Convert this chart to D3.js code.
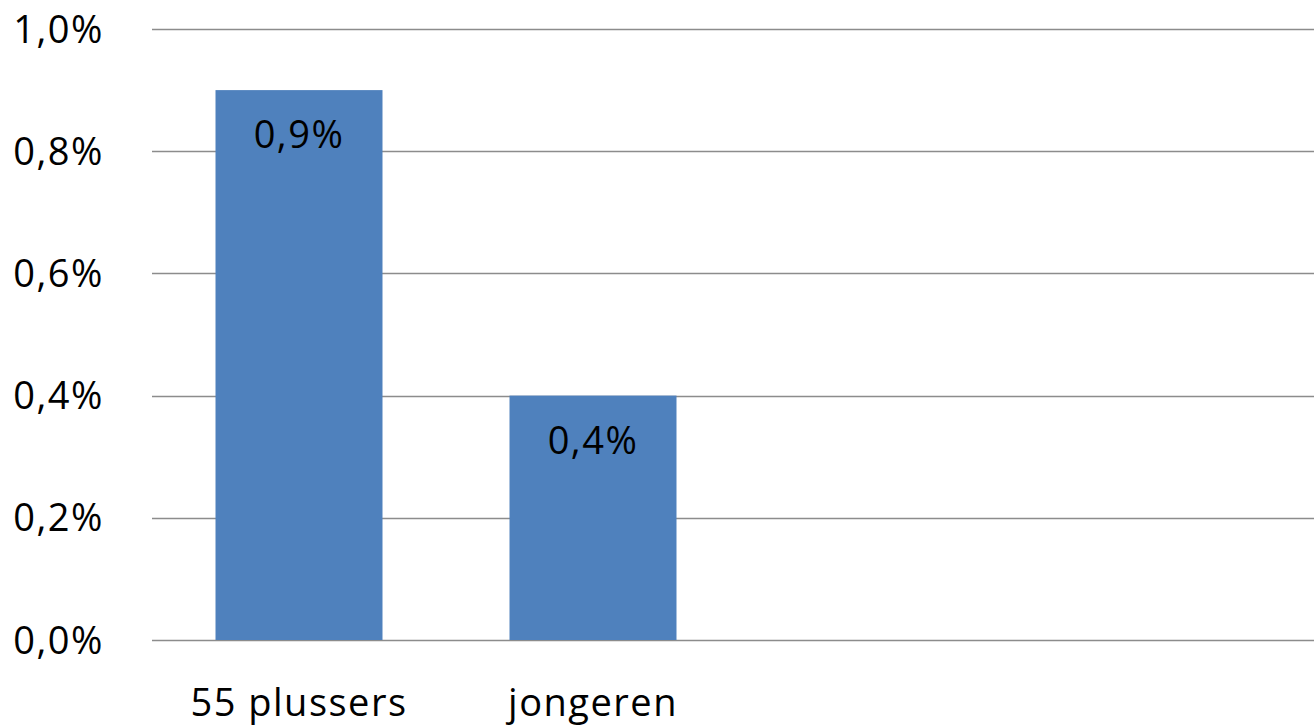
<!DOCTYPE html>
<html>
<head>
<meta charset="utf-8">
<script src="https://cdn.jsdelivr.net/npm/d3@7"></script>
<style>
  body { margin: 0; background: #fff; }
  text { font-family: "Open Sans", "Liberation Sans", sans-serif; fill: #000; letter-spacing: 1.5px; }
</style>
</head>
<body>
<div id="chart"></div>
<script>
const categories = ['55 plussers', 'jongeren', 'c3', 'c4'];
const values = [0.9, 0.4, null, null];
const dataLabels = ['0,9%', '0,4%'];
const yTicks = [0, 0.2, 0.4, 0.6, 0.8, 1.0];
const yTickLabels = ['0,0%', '0,2%', '0,4%', '0,6%', '0,8%', '1,0%'];

const width = 1314, height = 727;
const svg = d3.select('#chart').append('svg')
  .attr('width', width)
  .attr('height', height);

const x = d3.scaleBand()
  .domain(categories)
  .range([152, 1328])
  .paddingInner(0.432)
  .paddingOuter(0.216);

const y = d3.scaleLinear()
  .domain([0, 1.0])
  .range([640, 29]);

// gridlines
svg.append('g')
  .selectAll('line')
  .data(yTicks)
  .enter().append('line')
  .attr('x1', 152)
  .attr('x2', width)
  .attr('y1', d => Math.round(y(d)) + 0.5)
  .attr('y2', d => Math.round(y(d)) + 0.5)
  .attr('stroke', '#8c8c8c')
  .attr('stroke-width', 1.6);

// y labels
svg.append('g')
  .selectAll('text')
  .data(yTicks)
  .enter().append('text')
  .attr('x', 104)
  .attr('y', d => y(d))
  .attr('dy', '0.36em')
  .attr('text-anchor', 'end')
  .style('font-size', '38px')
  .text((d, i) => yTickLabels[i]);

const bars = categories.map((c, i) => ({ c, v: values[i], label: dataLabels[i] }))
  .filter(d => d.v != null);

svg.append('g')
  .selectAll('rect')
  .data(bars)
  .enter().append('rect')
  .attr('x', d => x(d.c))
  .attr('width', x.bandwidth())
  .attr('y', d => y(d.v))
  .attr('height', d => y(0) - y(d.v))
  .attr('fill', '#4f81bd');

svg.append('g')
  .selectAll('text')
  .data(bars)
  .enter().append('text')
  .attr('x', d => x(d.c) + x.bandwidth() / 2)
  .attr('y', d => y(d.v) + 58)
  .attr('text-anchor', 'middle')
  .style('font-size', '38px')
  .text(d => d.label);

// category labels
svg.append('g')
  .selectAll('text')
  .data(bars)
  .enter().append('text')
  .attr('x', d => x(d.c) + x.bandwidth() / 2)
  .attr('y', 716)
  .attr('text-anchor', 'middle')
  .style('font-size', '38px')
  .text(d => d.c);
</script>
</body>
</html>
